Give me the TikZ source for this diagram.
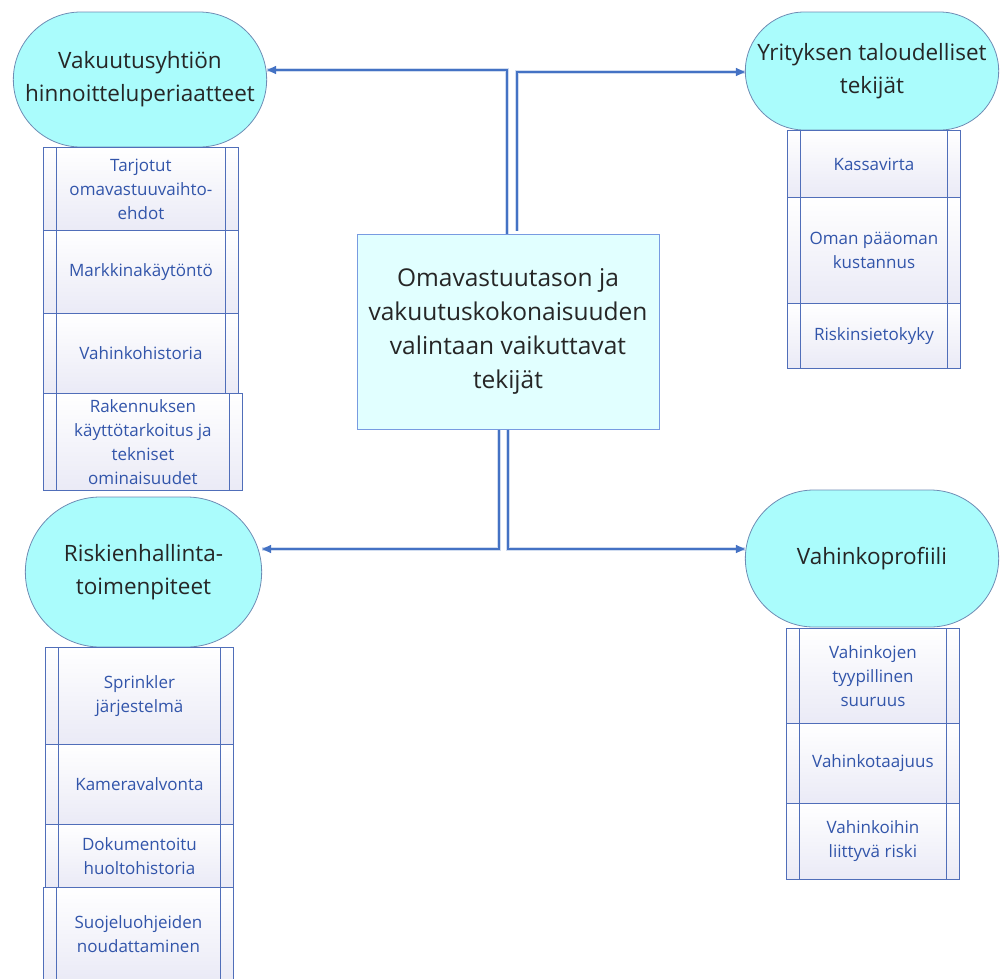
\documentclass[tikz,border=0pt]{standalone}
\usepackage{fontspec}
\setmainfont{Open Sans}
\usepackage{tikz}
\usetikzlibrary{shapes.misc}
\usetikzlibrary{arrows.meta}
\definecolor{pillfill}{RGB}{170,252,252}
\definecolor{pillline}{RGB}{110,140,180}
\definecolor{mainfill}{RGB}{225,255,255}
\definecolor{mainline}{RGB}{120,155,225}
\definecolor{linkblue}{RGB}{68,114,196}
\definecolor{boxblue}{RGB}{80,110,185}
\definecolor{boxtext}{RGB}{50,85,170}
\definecolor{boxshade}{RGB}{234,234,246}

\begin{document}
\begin{tikzpicture}[x=1pt, y=-1pt,
    pill/.style={rounded rectangle, draw=pillline, fill=pillfill, line width=0.8pt, align=center, text=black!85, font=\fontsize{22.5}{33}\selectfont},
    procbox/.style={rectangle, anchor=north west, draw=boxblue, line width=0.9pt, top color=white, bottom color=boxshade, inner sep=0pt, align=center, text=boxtext, font=\fontsize{17}{24}\selectfont,
        path picture={\draw[boxblue, line width=0.9pt]
            ([xshift=13pt]path picture bounding box.north west) -- ([xshift=13pt]path picture bounding box.south west)
            ([xshift=-13pt]path picture bounding box.north east) -- ([xshift=-13pt]path picture bounding box.south east);}},
    link/.style={draw=linkblue, line width=1.2pt, -{Triangle[length=9pt,width=8pt]}, preaction={draw=linkblue!25, line width=3.5pt, -}}]
    \useasboundingbox (0,0) rectangle (1001,978);
    % main box
    \node[rectangle, draw=mainline, fill=mainfill, line width=1pt, minimum width=302pt, minimum height=195pt, align=center, text=black!85, font=\fontsize{24.5}{34}\selectfont] (main) at (508,331.5) {Omavastuutason ja\\vakuutuskokonaisuuden\\valintaan vaikuttavat\\tekijät};
    % factor groups
    \node[pill, minimum width=260pt, minimum height=135pt] (pricing) at (140,79.5) {Vakuutusyhtiön\\hinnoitteluperiaatteet};
    \node[pill, minimum width=260pt, minimum height=118pt] (finance) at (872,71) {Yrityksen taloudelliset\\tekijät};
    \node[pill, minimum width=243pt, minimum height=150pt] (riskmgmt) at (143.5,572) {Riskienhallinta-\\toimenpiteet};
    \node[pill, minimum width=260pt, minimum height=137pt] (lossprof) at (872,558.5) {Vahinkoprofiili};
    % pricing items
    \node[procbox, minimum width=195pt, minimum height=83pt] (p1) at (43,147) {Tarjotut\\omavastuuvaihto-\\ehdot};
    \node[procbox, minimum width=195pt, minimum height=83pt] (p2) at (43,230) {Markkinakäytöntö};
    \node[procbox, minimum width=195pt, minimum height=80pt] (p3) at (43,313) {Vahinkohistoria};
    \node[procbox, minimum width=199pt, minimum height=97pt] (p4) at (43,393) {Rakennuksen\\käyttötarkoitus ja\\tekniset\\ominaisuudet};
    % finance items
    \node[procbox, minimum width=173pt, minimum height=67pt] (f1) at (787,130) {Kassavirta};
    \node[procbox, minimum width=173pt, minimum height=106pt] (f2) at (787,197) {Oman pääoman\\kustannus};
    \node[procbox, minimum width=173pt, minimum height=65pt] (f3) at (787,303) {Riskinsietokyky};
    % risk management items
    \node[procbox, minimum width=188pt, minimum height=97pt] (r1) at (45,647) {Sprinkler\\järjestelmä};
    \node[procbox, minimum width=188pt, minimum height=80pt] (r2) at (45,744) {Kameravalvonta};
    \node[procbox, minimum width=188pt, minimum height=63pt] (r3) at (45,824) {Dokumentoitu\\huoltohistoria};
    \node[procbox, minimum width=190pt, minimum height=93pt] (r4) at (43,887) {Suojeluohjeiden\\noudattaminen};
    % loss profile items
    \node[procbox, minimum width=173pt, minimum height=95pt] (l1) at (786,628) {Vahinkojen\\tyypillinen\\suuruus};
    \node[procbox, minimum width=173pt, minimum height=80pt] (l2) at (786,723) {Vahinkotaajuus};
    \node[procbox, minimum width=173pt, minimum height=76pt] (l3) at (786,803) {Vahinkoihin\\liittyvä riski};
    % connectors
    \coordinate (tl) at (507,70);
    \coordinate (tr) at (517,72);
    \coordinate (bl) at (499,549);
    \coordinate (br) at (508,549);
    \draw[link] (main.north -| tl) |- (pricing.east |- tl);
    \draw[link] ([yshift=3pt]main.north -| tr) |- (finance.west |- tr);
    \draw[link] (main.south -| bl) |- (riskmgmt.east |- bl);
    \draw[link] (main.south -| br) |- (lossprof.west |- br);
\end{tikzpicture}
\end{document}
